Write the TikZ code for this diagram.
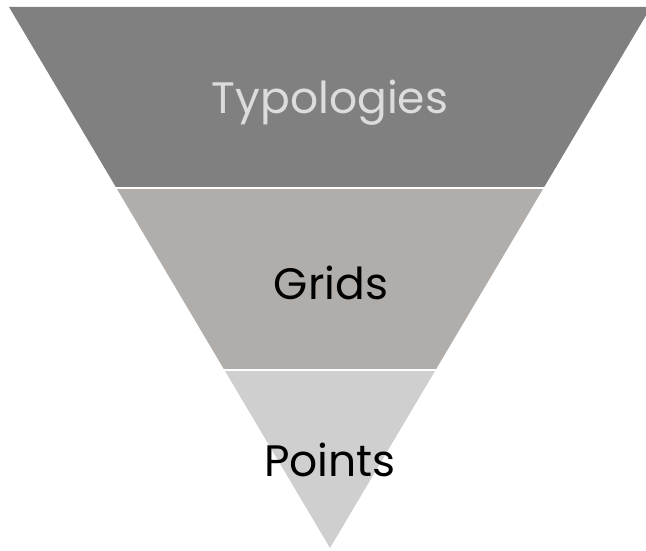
\documentclass[tikz,border=0pt]{standalone}
\usepackage{fontspec}
\setmainfont{Poppins}
\definecolor{bandA}{HTML}{808080}
\definecolor{bandB}{HTML}{B0ADAB}
\definecolor{bandC}{HTML}{D0CFD0}
\definecolor{lighttext}{HTML}{DCDCDC}
\begin{document}
\begin{tikzpicture}[x=1pt,y=1pt,
  lbl/.style={font=\fontsize{44}{48}\selectfont, anchor=base, inner sep=0pt},
  sep/.style={draw=white, line width=2.2pt}]
\useasboundingbox (0,0) rectangle (646,550);
\begin{scope}
\clip (0,0) rectangle (646,550);
\coordinate (tl) at (9,543);
\coordinate (tr) at (651,543);
\coordinate (ap) at (330,2);
\coordinate (l1) at (116.4,362);
\coordinate (r1) at (543.6,362);
\coordinate (l2) at (224.4,180);
\coordinate (r2) at (435.6,180);
\fill[bandA] (tl) -- (tr) -- (r1) -- (l1) -- cycle;
\fill[bandB] (l1) -- (r1) -- (r2) -- (l2) -- cycle;
\fill[bandC] (l2) -- (r2) -- (ap) -- cycle;
\draw[sep] (l1) -- (r1);
\draw[sep] (l2) -- (r2);
\end{scope}
\node[lbl, text=lighttext] (typ) at (330,436) {Typologies};
\node[lbl, text=black] (grd) at (331,251) {Grids};
\node[lbl, text=black] (pts) at (330,74) {Points};
\end{tikzpicture}
\end{document}
